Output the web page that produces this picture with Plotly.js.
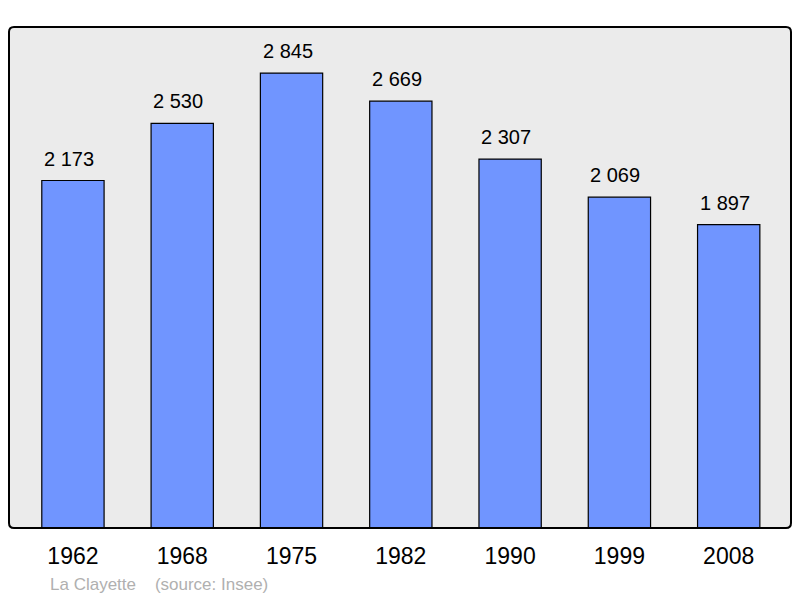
<!DOCTYPE html>
<html><head><meta charset="utf-8">
<script src="https://cdn.plot.ly/plotly-3.0.1.min.js"></script>
<style>body{margin:0;background:#fff}#chart{width:800px;height:598px}</style>
</head><body><div id="chart"></div>
<script>
const years = ['1962','1968','1975','1982','1990','1999','2008'];
const population = [2173, 2530, 2845, 2669, 2307, 2069, 1897];
const footerText = 'La Clayette\u00a0\u00a0\u00a0\u00a0(source: Insee)';

function fmt(v){ return String(v).replace(/\B(?=(\d{3})+(?!\d))/g, '\u00a0'); }

const FONT = 'Liberation Sans, Arial, sans-serif';
const W = 800, H = 598, L = 9, R = 9, T = 27, B = 70;
const pw = W - L - R, ph = H - T - B;
const rad = 5;
const rx = rad / pw, ry = rad / ph;
const border = `M ${rx} 0 L ${1-rx} 0 Q 1 0 1 ${ry} L 1 ${1-ry} Q 1 1 ${1-rx} 1 L ${rx} 1 Q 0 1 0 ${1-ry} L 0 ${ry} Q 0 0 ${rx} 0 Z`;

const trace = {
  type: 'bar', x: years, y: population,
  marker: {color: '#7095ff', line: {color: '#000', width: 1.2}},
  width: 0.57, hoverinfo: 'none'
};
const valueLabels = years.map((yr, i) => ({
  x: i, y: population[i], xref: 'x', yref: 'y', text: fmt(population[i]),
  showarrow: false, yanchor: 'middle', yshift: 22, xshift: -4,
  font: {family: FONT, size: 20, color: '#000'}
}));
const layout = {
  width: W, height: H, margin: {l: L, r: R, t: T, b: B},
  paper_bgcolor: '#fff', plot_bgcolor: 'rgba(0,0,0,0)',
  showlegend: false,
  xaxis: {type: 'category', range: [-0.585, 6.57], showgrid: false, zeroline: false,
    showline: false, ticks: '', ticklabelstandoff: 12,
    tickfont: {family: FONT, size: 23, color: '#000'}},
  yaxis: {range: [0, 3133], showgrid: false, zeroline: false, showticklabels: false, ticks: '', showline: false},
  shapes: [
    {type: 'path', xref: 'paper', yref: 'paper', path: border, fillcolor: '#ebebeb', line: {width: 0}, layer: 'below'},
    {type: 'path', xref: 'paper', yref: 'paper', path: border, fillcolor: 'rgba(0,0,0,0)', line: {color: '#000', width: 2}, layer: 'above'}
  ],
  annotations: valueLabels.concat([{xref: 'paper', yref: 'paper', x: (48 - L) / pw, y: -(584 - T - ph) / ph, xanchor: 'left', yanchor: 'middle',
    text: footerText, showarrow: false, font: {family: FONT, size: 17, color: '#b0b0b0'}}])
};
Plotly.newPlot('chart', [trace], layout, {staticPlot: true});
</script></body></html>
